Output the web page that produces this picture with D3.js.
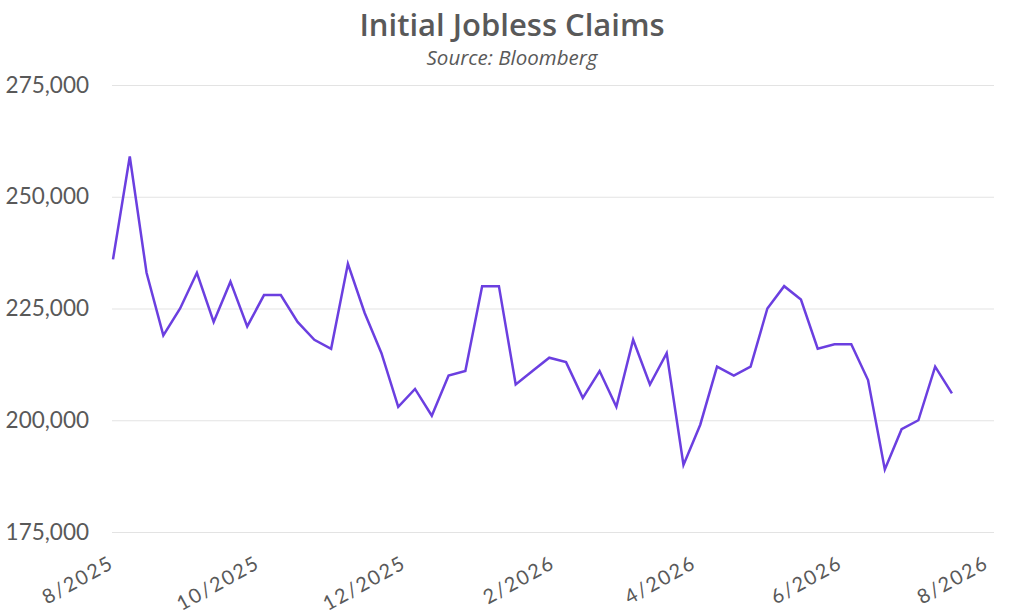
<!DOCTYPE html>
<html>
<head>
<meta charset="utf-8">
<script src="https://cdn.jsdelivr.net/npm/d3@7"></script>
<style>
  html, body { margin: 0; padding: 0; background: #fff; }
  svg { display: block; font-family: Lato, "Noto Sans", sans-serif; }
</style>
</head>
<body>
<svg id="chart" width="1024" height="616"></svg>
<script>
// weekly claims, week ending dates
const weekDates = [
  '2025-08-02', '2025-08-09', '2025-08-16', '2025-08-23', '2025-08-30',
  '2025-09-06', '2025-09-13', '2025-09-20', '2025-09-27', '2025-10-04',
  '2025-10-11', '2025-10-18', '2025-10-25', '2025-11-01', '2025-11-08',
  '2025-11-15', '2025-11-22', '2025-11-29', '2025-12-06', '2025-12-13',
  '2025-12-20', '2025-12-27', '2026-01-03', '2026-01-10', '2026-01-17',
  '2026-01-24', '2026-01-31', '2026-02-07', '2026-02-14', '2026-02-21',
  '2026-02-28', '2026-03-07', '2026-03-14', '2026-03-21', '2026-03-28',
  '2026-04-04', '2026-04-11', '2026-04-18', '2026-04-25', '2026-05-02',
  '2026-05-09', '2026-05-16', '2026-05-23', '2026-05-30', '2026-06-06',
  '2026-06-13', '2026-06-20', '2026-06-27', '2026-07-04', '2026-07-11',
  '2026-07-18'
];

const claims = [
  236000, 259000, 233000, 219000, 225000,
  233000, 222000, 231000, 221000, 228000,
  228000, 222000, 218000, 216000, 235000,
  224000, 215000, 203000, 207000, 201000,
  210000, 211000, 230000, 230000, 208000,
  211000, 214000, 213000, 205000, 211000,
  203000, 218000, 208000, 215000, 190000,
  199000, 212000, 210000, 212000, 225000,
  230000, 227000, 216000, 217000, 217000,
  209000, 189000, 198000, 200000, 212000,
  206000
];

const yTicks = [175000, 200000, 225000, 250000, 275000];
const xTicks = ['2025-08-01', '2025-10-01', '2025-12-01', '2026-02-01',
                '2026-04-01', '2026-06-01', '2026-08-01'];

const title = 'Initial Jobless Claims';
const subtitle = 'Source: Bloomberg';

const parse = d3.timeParse('%Y-%m-%d');
const series = weekDates.map((d, i) => ({ date: parse(d), value: claims[i] }));

const svg = d3.select('#chart');
const plot = { left: 112, right: 994, top: 85, bottom: 532 };

const x = d3.scaleTime()
  .domain([parse(xTicks[0]), parse(xTicks[xTicks.length - 1])])
  .range([110.6, 985.5]);

const y = d3.scaleLinear()
  .domain([175000, 275000])
  .range([plot.bottom, plot.top]);

// title block
svg.append('text')
  .attr('x', 512).attr('y', 36)
  .attr('text-anchor', 'middle')
  .attr('font-family', '"Open Sans", sans-serif')
  .attr('font-size', 31).attr('font-weight', 600)
  .attr('fill', '#595959')
  .text(title);

svg.append('text')
  .attr('x', 512).attr('y', 65)
  .attr('text-anchor', 'middle')
  .attr('font-family', '"Open Sans", sans-serif')
  .attr('font-size', 20.5).attr('font-style', 'italic')
  .attr('fill', '#595959')
  .text(subtitle);

// gridlines + y labels
const yAxis = d3.axisLeft(y)
  .tickValues(yTicks)
  .tickSize(-(plot.right - plot.left))
  .tickPadding(23)
  .tickFormat(d3.format(','));

svg.append('g')
  .attr('transform', `translate(${plot.left},0)`)
  .call(yAxis)
  .call(g => g.select('.domain').remove())
  .call(g => g.selectAll('.tick line').attr('stroke', '#e3e3e3').attr('stroke-width', 1))
  .call(g => g.selectAll('.tick text')
    .attr('font-size', 22.5).attr('fill', '#595959')
    .attr('font-family', 'Lato, sans-serif'));

// x labels, rotated
const xAxis = d3.axisBottom(x)
  .tickValues(xTicks.map(parse))
  .tickSize(0)
  .tickFormat(d3.timeFormat('%-m/%Y'));

svg.append('g')
  .attr('transform', `translate(0,${plot.bottom})`)
  .call(xAxis)
  .call(g => g.select('.domain').remove())
  .call(g => g.selectAll('.tick text')
    .attr('font-size', 20).attr('fill', '#595959')
    .attr('font-family', 'Lato, sans-serif')
    .attr('letter-spacing', '1.8px')
    .attr('text-anchor', 'end')
    .attr('dy', null).attr('y', 0)
    .attr('transform', 'translate(4,35) rotate(-29)'));

// the line
const line = d3.line()
  .x(d => x(d.date))
  .y(d => y(d.value));

svg.append('path')
  .datum(series)
  .attr('fill', 'none')
  .attr('stroke', '#6b3fe0')
  .attr('stroke-width', 2.5)
  .attr('stroke-linejoin', 'miter')
  .attr('d', line);
</script>
</body>
</html>
